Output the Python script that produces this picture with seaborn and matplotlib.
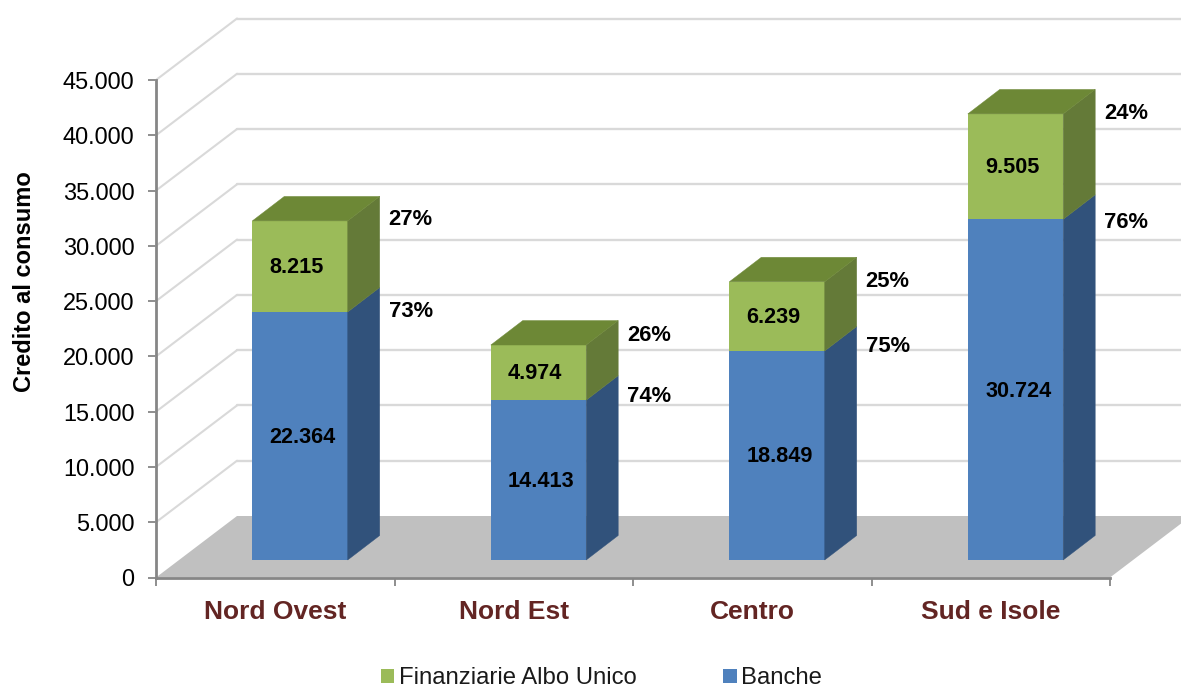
import matplotlib
matplotlib.use("Agg")
import matplotlib.pyplot as plt
from matplotlib.patches import Polygon, Patch
from matplotlib.transforms import IdentityTransform
import seaborn as sns

categories = ["Nord Ovest", "Nord Est", "Centro", "Sud e Isole"]
banche = [22364, 14413, 18849, 30724]
finanziarie = [8215, 4974, 6239, 9505]
banche_text = ["22.364", "14.413", "18.849", "30.724"]
finanziarie_text = ["8.215", "4.974", "6.239", "9.505"]
banche_pct = ["73%", "74%", "75%", "76%"]
finanziarie_pct = ["27%", "26%", "25%", "24%"]
y_ticks = [0, 5000, 10000, 15000, 20000, 25000, 30000, 35000, 40000, 45000]
y_tick_labels = ["0", "5.000", "10.000", "15.000", "20.000", "25.000", "30.000", "35.000", "40.000", "45.000"]

# label nudges in pixels relative to the front-top corner of each segment
banche_pct_dy = [3, 6, 7, -1]
finanziarie_pct_dy = [4, 12, 3, 3]

W, H = 1181, 688
sns.set_theme(style="white")
plt.rcParams["font.family"] = ["Liberation Sans", "DejaVu Sans"]

fig = plt.figure(figsize=(W / 100, H / 100), dpi=100, facecolor="white")


def rect(l, r, bottom, top):
    return [l / W, 1 - bottom / H, (r - l) / W, (bottom - top) / H]


GRID = "#D9D9D9"
AXC = "#868686"
BLUE, BLUE_S = "#4F81BD", "#31527B"
GREEN, GREEN_S, GREEN_T = "#9BBB59", "#647A38", "#6D8836"

# Front plane: axis, ticks and category labels
ax = fig.add_axes(rect(156, 1110, 577.5, 80))
ax.set_xlim(0, 4)
ax.set_ylim(0, 45000)
ax.patch.set_alpha(0)
for s in ("top", "right"):
    ax.spines[s].set_visible(False)
for s in ("left", "bottom"):
    ax.spines[s].set_color(AXC)
    ax.spines[s].set_linewidth(2.0)
ax.set_yticks(y_ticks, y_tick_labels, fontsize=16.9, color="black")
ax.tick_params(axis="y", length=5.5, width=1.3, color=AXC, pad=10, left=True)
ax.set_xticks([0, 1, 2, 3, 4], [""] * 5)
ax.tick_params(axis="x", which="major", length=6, width=1.3, color=AXC, bottom=True)
ax.set_xticks([0.5, 1.5, 2.5, 3.5], categories, minor=True)
ax.tick_params(axis="x", which="minor", length=0, pad=16.5)
for t in ax.get_xticklabels(minor=True):
    t.set_fontsize(19)
    t.set_fontweight("bold")
    t.set_color("#632523")
ax.set_ylabel("Credito al consumo", fontsize=17, fontweight="bold", color="black", labelpad=0)
ax.yaxis.set_label_coords((36 - 156) / (1110 - 156), 0.595)

# Walls and floor
DX, DY = 81, 61.5
idt = IdentityTransform()


def front(x, y):
    return ax.transData.transform((x, y))


for v in y_ticks[1:]:
    p = front(0, v)
    ax.plot([p[0], p[0] + DX], [p[1], p[1] + DY], color=GRID, lw=1.5, transform=idt,
            clip_on=False, zorder=1)
    ax.plot([p[0] + DX, W], [p[1] + DY, p[1] + DY], color=GRID, lw=1.7, transform=idt,
            clip_on=False, zorder=1)
p0, p1 = front(0, 0), front(4, 0)
ax.add_patch(Polygon([p0, p1, (p1[0] + DX, p1[1] + DY), (p0[0] + DX, p0[1] + DY)],
                     closed=True, facecolor="#C0C0C0", edgecolor="none", transform=idt,
                     clip_on=False, zorder=1.5))

# Bars: plane set back inside the floor
bax = fig.add_axes(rect(180.75, 1134.75, 560, 61))
bax.patch.set_alpha(0)
bax.set_zorder(ax.get_zorder() + 1)
totals = [a + b for a, b in zip(banche, finanziarie)]
BW = 0.4
sns.barplot(x=categories, y=totals, color=GREEN, saturation=1, width=BW, ax=bax, order=categories,
            edgecolor="none", linewidth=0)
sns.barplot(x=categories, y=banche, color=BLUE, saturation=1, width=BW, ax=bax, order=categories,
            edgecolor="none", linewidth=0)
bax.set_xlim(-0.5, 3.5)
bax.set_ylim(0, 45000)
bax.axis("off")

D = (32, 24.5)


def disp(x, y):
    return bax.transData.transform((x, y))


def face(pts, color):
    bax.add_patch(Polygon(pts, closed=True, facecolor=color, edgecolor=color, lw=0.3,
                          transform=idt, clip_on=False, zorder=3))


for i, (b, t) in enumerate(zip(banche, totals)):
    r0, r1, r2 = disp(i + BW / 2, 0), disp(i + BW / 2, b), disp(i + BW / 2, t)
    l2 = disp(i - BW / 2, t)
    off = lambda p: (p[0] + D[0], p[1] + D[1])
    face([r0, r1, off(r1), off(r0)], BLUE_S)
    face([r1, r2, off(r2), off(r1)], GREEN_S)
    face([l2, r2, off(r2), off(l2)], GREEN_T)
    kw = dict(ha="center", va="center", fontsize=15.6, fontweight="bold", color="black", zorder=5)
    bax.annotate(banche_text[i], xy=(i, b / 2), xytext=(2.0, -1.0), textcoords="offset points", **kw)
    bax.annotate(finanziarie_text[i], xy=(i, b + finanziarie[i] / 2), xytext=(-2.5, -1.0),
                 textcoords="offset points", **kw)
    for val, lab, dy in ((b, banche_pct[i], banche_pct_dy[i]), (t, finanziarie_pct[i], finanziarie_pct_dy[i])):
        bax.annotate(lab, xy=(i + BW / 2, val), xytext=(41 * 0.72, (dy - 2.5) * 0.72),
                     textcoords="offset points", ha="left", va="center", fontsize=15.8,
                     fontweight="bold", color="black", annotation_clip=False, zorder=5)

# Legend
handles = [Patch(facecolor=GREEN, edgecolor="none", label="Finanziarie Albo Unico"),
           Patch(facecolor=BLUE, edgecolor="none", label="Banche")]
fig.legend(handles=handles, loc="center", bbox_to_anchor=(601.5 / W, 1 - 678.5 / H), ncol=2,
           frameon=False, fontsize=17.2, handlelength=0.55, handleheight=0.55,
           handletextpad=0.2, columnspacing=3.64, borderpad=0, labelcolor="#1a1a1a")

fig.savefig("out.png", dpi=100, facecolor="white")
